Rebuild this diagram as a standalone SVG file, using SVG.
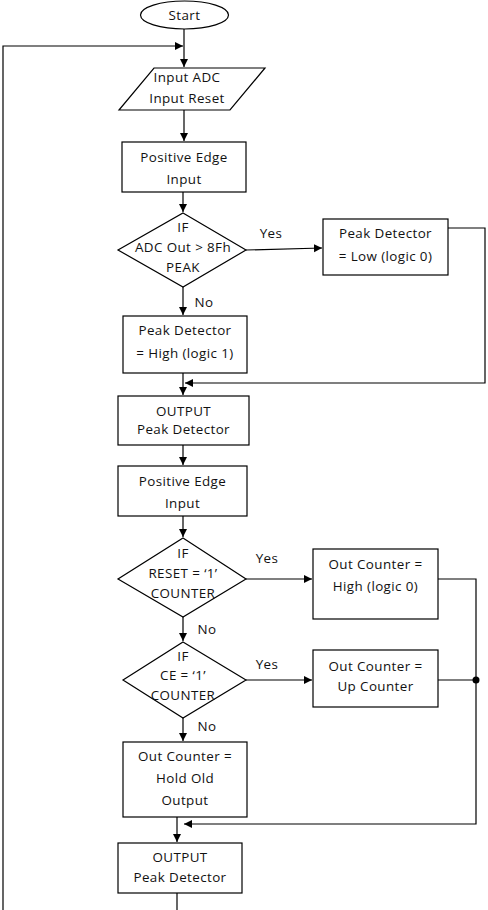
<svg xmlns="http://www.w3.org/2000/svg" width="488" height="910" viewBox="0 0 488 910">
<style>
.s{fill:#fff;stroke:#000;stroke-width:1.2}
.c{fill:none;stroke:#000;stroke-width:1.2}
text{font-family:"Open Sans","DejaVu Sans",sans-serif;font-size:13.4px;letter-spacing:0.4px;fill:#111;text-anchor:middle;dominant-baseline:central}
</style>
<defs>
<marker id="a" markerUnits="userSpaceOnUse" markerWidth="9" markerHeight="9" refX="8" refY="4" orient="auto"><path d="M0,0 L8,4 L0,8 z" fill="#000"/></marker>
</defs>
<rect width="488" height="910" fill="#fff"/>
<g id="connectors">
<line class="c" x1="184" y1="29" x2="184" y2="67" marker-end="url(#a)"/>
<path class="c" d="M3,910 V46 H183" marker-end="url(#a)"/>
<line class="c" x1="184" y1="110" x2="184" y2="141" marker-end="url(#a)"/>
<line class="c" x1="183" y1="192" x2="183" y2="212" marker-end="url(#a)"/>
<line class="c" x1="246" y1="250" x2="322" y2="248" marker-end="url(#a)"/>
<line class="c" x1="183" y1="287" x2="183" y2="315" marker-end="url(#a)"/>
<line class="c" x1="183" y1="373" x2="183" y2="395" marker-end="url(#a)"/>
<path class="c" d="M448,228 H485 V383 H185" marker-end="url(#a)"/>
<line class="c" x1="183" y1="445" x2="183" y2="465" marker-end="url(#a)"/>
<line class="c" x1="183" y1="516" x2="183" y2="537" marker-end="url(#a)"/>
<line class="c" x1="246" y1="579" x2="312" y2="579" marker-end="url(#a)"/>
<line class="c" x1="183" y1="617" x2="183" y2="641" marker-end="url(#a)"/>
<line class="c" x1="246" y1="680" x2="312" y2="680" marker-end="url(#a)"/>
<line class="c" x1="183" y1="718" x2="183" y2="741" marker-end="url(#a)"/>
<path class="c" d="M438,579 H476 V824 H184" marker-end="url(#a)"/>
<line class="c" x1="438" y1="680" x2="476" y2="680"/>
<circle cx="476" cy="680" r="3.5" fill="#000"/>
<line class="c" x1="177" y1="817" x2="177" y2="842" marker-end="url(#a)"/>
<line class="c" x1="177" y1="893" x2="177" y2="910"/>
<text x="271" y="233">Yes</text>
<text x="204" y="302">No</text>
<text x="267" y="558">Yes</text>
<text x="207" y="629">No</text>
<text x="267" y="664">Yes</text>
<text x="207" y="726">No</text>
</g>
<g id="start">
<ellipse class="s" cx="184.5" cy="15" rx="44" ry="14"/>
<text x="184.5" y="15">Start</text>
</g>
<g id="input">
<polygon class="s" points="154,68 265,68 230,110 119,110"/>
<text x="187" y="77">Input ADC</text>
<text x="187" y="98">Input Reset</text>
</g>
<g id="posedge1">
<rect class="s" x="122" y="142" width="124" height="50"/>
<text x="184" y="157">Positive Edge</text>
<text x="184" y="179">Input</text>
</g>
<g id="ifpeak">
<polygon class="s" points="183,213 246,250 183,287 118,250"/>
<text x="183" y="227">IF</text>
<text x="183" y="247">ADC Out &gt; 8Fh</text>
<text x="183" y="267">PEAK</text>
</g>
<g id="peaklow">
<rect class="s" x="323" y="219" width="125" height="56"/>
<text x="385.5" y="233">Peak Detector</text>
<text x="385.5" y="256">= Low (logic 0)</text>
</g>
<g id="peakhigh">
<rect class="s" x="123" y="316" width="124" height="57"/>
<text x="185" y="330">Peak Detector</text>
<text x="185" y="353">= High (logic 1)</text>
</g>
<g id="output1">
<rect class="s" x="118" y="396" width="131" height="49"/>
<text x="183.5" y="411">OUTPUT</text>
<text x="183.5" y="429">Peak Detector</text>
</g>
<g id="posedge2">
<rect class="s" x="118" y="466" width="129" height="50"/>
<text x="182.5" y="481">Positive Edge</text>
<text x="182.5" y="503">Input</text>
</g>
<g id="ifreset">
<polygon class="s" points="183,538 246,579 183,617 118,579"/>
<text x="183" y="553">IF</text>
<text x="183" y="573">RESET = ‘1’</text>
<text x="183" y="593">COUNTER</text>
</g>
<g id="counthigh">
<rect class="s" x="313" y="549" width="125" height="70"/>
<text x="375.5" y="564">Out Counter =</text>
<text x="375.5" y="586">High (logic 0)</text>
</g>
<g id="ifce">
<polygon class="s" points="183,642 246,680 183,718 123,680"/>
<text x="183" y="656">IF</text>
<text x="183" y="675">CE = ‘1’</text>
<text x="183" y="695">COUNTER</text>
</g>
<g id="countup">
<rect class="s" x="313" y="650" width="125" height="57"/>
<text x="375.5" y="666">Out Counter =</text>
<text x="375.5" y="686">Up Counter</text>
</g>
<g id="hold">
<rect class="s" x="123" y="742" width="124" height="75"/>
<text x="185" y="756">Out Counter =</text>
<text x="185" y="778">Hold Old</text>
<text x="185" y="800">Output</text>
</g>
<g id="output2">
<rect class="s" x="118" y="843" width="124" height="50"/>
<text x="180" y="857">OUTPUT</text>
<text x="180" y="877">Peak Detector</text>
</g>
</svg>
